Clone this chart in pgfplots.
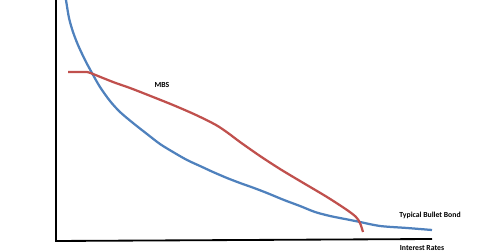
\documentclass[border=0pt]{standalone}
\usepackage{pgfplots}
\pgfplotsset{compat=1.18}
\usepackage{fontspec}
\setmainfont{Carlito}
\definecolor{oblue}{HTML}{4F81BD}
\definecolor{ored}{HTML}{C0504D}
\begin{document}
\begin{tikzpicture}
\begin{axis}[
  width=12cm, height=6.275cm, scale only axis,
  xmin=0, xmax=480, ymin=0, ymax=251, y dir=reverse,
  axis lines=none, clip=false, anchor=south west, at={(0,0)},
]
% axes
\addplot[black, line width=1.3pt] coordinates {(56,0) (56,241) (432,239)};
% Typical bullet bond
\addplot[oblue, line width=1.6pt, smooth] coordinates {
(66,0) (69,18) (73,32) (78,45) (85,60) (92,73) (100,87) (110,101) (120,112) (133,123) (147,134)
(160,144) (173,152) (187,160) (200,166) (213,172) (227,178) (240,183) (254,188) (267,193)
(284,200) (300,206) (315,212) (330,216) (345,219) (360,222) (380,226) (407,228) (432,230)};
% MBS
\addplot[ored, line width=1.6pt, smooth] coordinates {
(68,72) (80,72) (87,72) (93,74) (113,82) (130,88) (148,95) (173,105) (196,115)
(216,125) (228,133) (240,142) (260,156) (280,169) (300,181) (327,197) (347,210)
(356,217) (360,223) (363,232)};
\node[font=\bfseries\fontsize{5.5}{6}\selectfont] at (axis cs:162,85) {MBS};
\node[font=\bfseries\fontsize{5.5}{6}\selectfont] at (axis cs:430,215) {Typical Bullet Bond};
\node[font=\bfseries\fontsize{5.5}{6}\selectfont] at (axis cs:422,248) {Interest Rates};
\end{axis}
\pgfresetboundingbox
\useasboundingbox (0,0) rectangle (12cm,6.275cm);
\end{tikzpicture}
\end{document}
